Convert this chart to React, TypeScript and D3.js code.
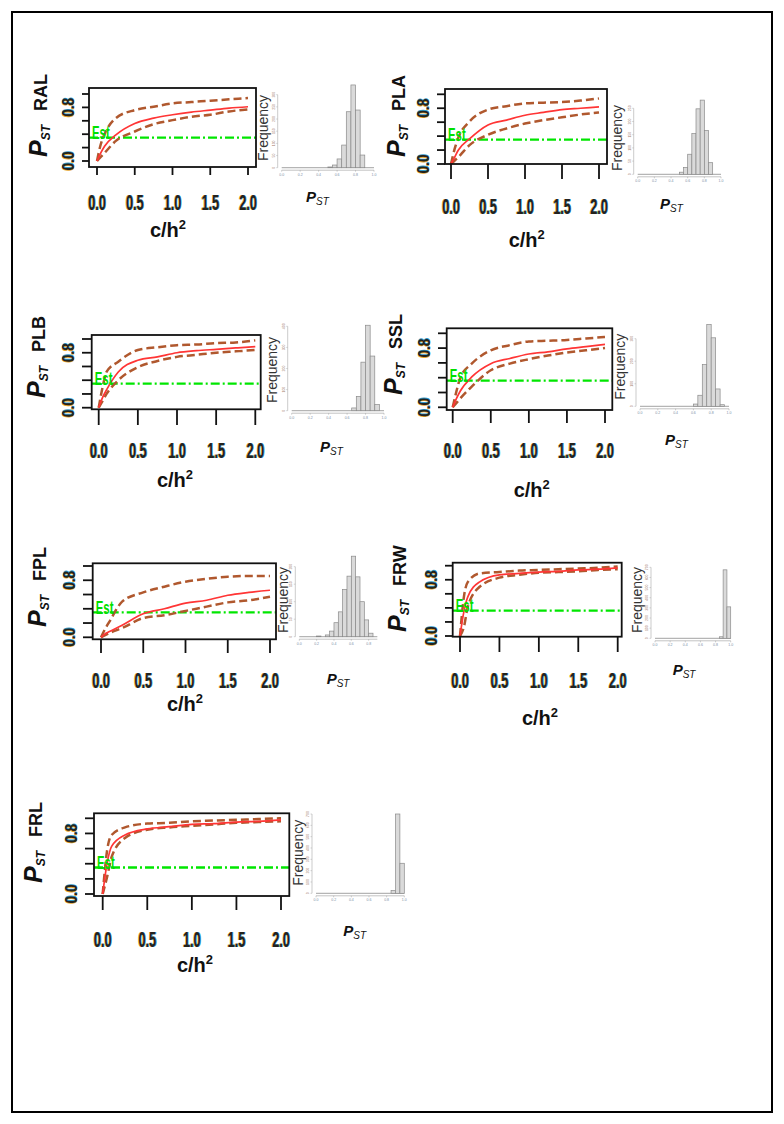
import React from 'react';
import * as d3 from 'd3';

// c/h2 grid at which the PST curves were read
const cGrid = [0, 0.05, 0.1, 0.25, 0.5, 0.75, 1, 1.25, 1.5, 1.75, 2];
const xTicks = [0, 0.5, 1, 1.5, 2];
const yTicks = [0, 0.2, 0.4, 0.6, 0.8, 1];
const yTickLabels = [0, 0.8];
const histXTicks = [0, 0.2, 0.4, 0.6, 0.8, 1];
const histBin = 0.05;

// RAL
const ralMid = [0, 0.12, 0.22, 0.39, 0.56, 0.64, 0.69, 0.73, 0.76, 0.79, 0.81];
const ralUp = [0, 0.25, 0.4, 0.64, 0.76, 0.81, 0.86, 0.88, 0.9, 0.92, 0.94];
const ralLo = [0, 0.06, 0.12, 0.3, 0.44, 0.55, 0.61, 0.66, 0.69, 0.74, 0.77];
const ralFst = 0.35;
const ralHistStart = 0.5;
const ralHist = [3, 11, 36, 93, 230, 340, 237, 52];

// PLA
const plaMid = [0, 0.1, 0.2, 0.36, 0.56, 0.63, 0.7, 0.74, 0.78, 0.8, 0.82];
const plaUp = [0, 0.22, 0.38, 0.61, 0.78, 0.83, 0.87, 0.88, 0.89, 0.91, 0.94];
const plaLo = [0, 0.05, 0.1, 0.27, 0.42, 0.51, 0.58, 0.63, 0.67, 0.71, 0.74];
const plaFst = 0.35;
const plaHistStart = 0.5;
const plaHist = [8, 26, 76, 154, 248, 281, 166, 44];

// PLB
const plbMid = [0, 0.15, 0.26, 0.52, 0.69, 0.74, 0.8, 0.83, 0.85, 0.87, 0.89];
const plbUp = [0, 0.3, 0.52, 0.67, 0.84, 0.88, 0.91, 0.92, 0.94, 0.95, 0.98];
const plbLo = [0, 0.1, 0.2, 0.4, 0.59, 0.68, 0.74, 0.77, 0.8, 0.82, 0.84];
const plbFst = 0.35;
const plbHistStart = 0.65;
const plbHist = [13, 68, 230, 405, 259, 29];

// SSL
const sslMid = [0, 0.12, 0.22, 0.41, 0.59, 0.66, 0.72, 0.75, 0.79, 0.82, 0.85];
const sslUp = [0, 0.22, 0.4, 0.59, 0.77, 0.84, 0.89, 0.9, 0.91, 0.93, 0.95];
const sslLo = [0, 0.06, 0.12, 0.28, 0.5, 0.59, 0.65, 0.7, 0.74, 0.77, 0.8];
const sslFst = 0.36;
const sslHistStart = 0.6;
const sslHist = [10, 49, 185, 363, 304, 77, 7];

// FPL
const fplMid = [0, 0.05, 0.08, 0.17, 0.33, 0.4, 0.48, 0.52, 0.59, 0.63, 0.66];
const fplUp = [0, 0.12, 0.22, 0.5, 0.63, 0.71, 0.78, 0.82, 0.85, 0.86, 0.86];
const fplLo = [0, 0.03, 0.06, 0.13, 0.27, 0.31, 0.37, 0.43, 0.49, 0.52, 0.57];
const fplFst = 0.35;
const fplHistStart = 0.2;
const fplHist = [2, 0, 5, 16, 40, 71, 135, 173, 230, 171, 100, 48, 10];

// FRW
const frwMid = [0, 0.35, 0.56, 0.77, 0.87, 0.89, 0.91, 0.92, 0.94, 0.95, 0.97];
const frwUp = [0, 0.56, 0.77, 0.89, 0.91, 0.93, 0.94, 0.95, 0.96, 0.97, 0.99];
const frwLo = [0, 0.13, 0.42, 0.7, 0.83, 0.87, 0.9, 0.91, 0.92, 0.94, 0.95];
const frwFst = 0.36;
const frwHistStart = 0.85;
const frwHist = [15, 675, 310];

// FRL
const frlMid = [0, 0.41, 0.63, 0.78, 0.86, 0.89, 0.92, 0.93, 0.95, 0.96, 0.98];
const frlUp = [0, 0.58, 0.78, 0.88, 0.93, 0.94, 0.96, 0.97, 0.98, 0.99, 1.0];
const frlLo = [0, 0.23, 0.49, 0.74, 0.85, 0.88, 0.9, 0.92, 0.94, 0.95, 0.96];
const frlFst = 0.35;
const frlHistStart = 0.85;
const frlHist = [25, 700, 265];

// where each panel sits on the page
const layouts = [
  { box: [89, 88, 256, 167], x0: 97, x2: 248, y0: 161, y1: 94, yTickX: 82, xTickY: 175, xLabY: 202, cLab: [168, 236.7], yLab: [47, 157],
    hx0: 281.7, hx1: 374, hBase: 167.7, hTopVal: 300, hTopPx: 94.7, hStep: 50, hEnd: 1, freq: [262.7, 128], pst: [306, 201.7] },
  { box: [445, 89, 607, 164], x0: 451, x2: 599, y0: 164, y1: 94.3, yTickX: 437, xTickY: 179, xLabY: 206.7, cLab: [526.7, 246.7], yLab: [405, 157],
    hx0: 637.7, hx1: 721, hBase: 174.3, hTopVal: 250, hTopPx: 108.3, hStep: 50, hEnd: 1, freq: [616.7, 138], pst: [660, 209.3] },
  { box: [91.7, 335, 260.7, 409.3], x0: 98.7, x2: 255.3, y0: 407.7, y1: 339, yTickX: 82, xTickY: 425, xLabY: 450, cLab: [175, 486.7], yLab: [45, 398],
    hx0: 291.7, hx1: 384, hBase: 410.7, hTopVal: 400, hTopPx: 326.3, hStep: 100, hEnd: 1, freq: [271.7, 370], pst: [320, 451.7] },
  { box: [446.7, 328.3, 612.3, 410], x0: 452.7, x2: 605, y0: 407.3, y1: 333.3, yTickX: 438, xTickY: 423, xLabY: 450, cLab: [531.7, 496.7], yLab: [402, 395],
    hx0: 640, hx1: 729, hBase: 406.3, hTopVal: 300, hTopPx: 338.7, hStep: 100, hEnd: 1, freq: [620, 366.7], pst: [665, 445] },
  { box: [92.7, 563.3, 276, 639.3], x0: 101, x2: 270, y0: 637.3, y1: 566, yTickX: 83, xTickY: 653, xLabY: 680, cLab: [185, 711], yLab: [46, 627],
    hx0: 299.3, hx1: 386, hBase: 636.7, hTopVal: 200, hTopPx: 566.7, hStep: 50, hEnd: 0.9, freq: [283.3, 600], pst: [326.7, 684] },
  { box: [452.7, 562.7, 621.7, 636.7], x0: 460, x2: 617.7, y0: 636, y1: 565.7, yTickX: 445, xTickY: 652, xLabY: 680, cLab: [540, 725], yLab: [406, 632],
    hx0: 655, hx1: 730.7, hBase: 638.3, hTopVal: 700, hTopPx: 567.3, hStep: 100, hEnd: 1, freq: [636.7, 600], pst: [672.7, 675] },
  { box: [94, 813.3, 289.3, 896], x0: 102.7, x2: 281, y0: 894, y1: 818.3, yTickX: 85, xTickY: 910, xLabY: 939, cLab: [195, 971.7], yLab: [42, 883],
    hx0: 316, hx1: 404.3, hBase: 893.3, hTopVal: 700, hTopPx: 814, hStep: 100, hEnd: 1, freq: [298.3, 852.7], pst: [343.3, 935.7] },
];

const panels = [
  { name: 'RAL', mid: ralMid, up: ralUp, lo: ralLo, fst: ralFst, hStart: ralHistStart, hist: ralHist },
  { name: 'PLA', mid: plaMid, up: plaUp, lo: plaLo, fst: plaFst, hStart: plaHistStart, hist: plaHist },
  { name: 'PLB', mid: plbMid, up: plbUp, lo: plbLo, fst: plbFst, hStart: plbHistStart, hist: plbHist },
  { name: 'SSL', mid: sslMid, up: sslUp, lo: sslLo, fst: sslFst, hStart: sslHistStart, hist: sslHist },
  { name: 'FPL', mid: fplMid, up: fplUp, lo: fplLo, fst: fplFst, hStart: fplHistStart, hist: fplHist },
  { name: 'FRW', mid: frwMid, up: frwUp, lo: frwLo, fst: frwFst, hStart: frwHistStart, hist: frwHist },
  { name: 'FRL', mid: frlMid, up: frlUp, lo: frlLo, fst: frlFst, hStart: frlHistStart, hist: frlHist },
];

const SANS = '"Liberation Sans", Arial, sans-serif';

// blurry scanned look: orange / blue fringes around dark digits
function Fringe({ transform, text, size }: { transform: string; text: string; size: number }) {
  const common = { fontFamily: SANS, fontWeight: 700, fontSize: size, textAnchor: 'middle' as const };
  return (
    <g transform={transform}>
      <text x={-1} {...common} fill="#e39a12" opacity={0.9}>{text}</text>
      <text x={1} {...common} fill="#1b8fc4" opacity={0.9}>{text}</text>
      <text x={0} {...common} fill="#23231e">{text}</text>
    </g>
  );
}

function Panel({ p, L, idx }: { p: any; L: any; idx: number }) {
  const [bl, bt, br, bb] = L.box;
  const x = d3.scaleLinear().domain([0, 2]).range([L.x0, L.x2]);
  const y = d3.scaleLinear().domain([0, 1]).range([L.y0, L.y1]);
  const line = d3.line<number>().x((_, i) => x(cGrid[i])).y((d) => y(d)).curve(d3.curveMonotoneX);

  const hx = d3.scaleLinear().domain([0, 1]).range([L.hx0, L.hx1]);
  const hy = d3.scaleLinear().domain([0, L.hTopVal]).range([L.hBase, L.hTopPx]);
  const hyTicks = d3.range(0, L.hTopVal + 1, L.hStep);
  const hxTicks = histXTicks.filter((t) => t <= L.hEnd + 1e-9);
  const clipId = `clip${idx}`;

  return (
    <g>
      <defs>
        <clipPath id={clipId}>
          <rect x={bl} y={bt} width={br - bl} height={bb - bt} />
        </clipPath>
      </defs>

      {/* curves */}
      <g clipPath={`url(#${clipId})`}>
        <line x1={bl} x2={br} y1={y(p.fst)} y2={y(p.fst)} stroke="#00e600" strokeWidth={2.3} strokeDasharray="9,3,2,3" />
        <path d={line(p.up) || ''} fill="none" stroke="#b0582e" strokeWidth={2.5} strokeDasharray="8,4" />
        <path d={line(p.lo) || ''} fill="none" stroke="#b0582e" strokeWidth={2.5} strokeDasharray="8,4" />
        <path d={line(p.mid) || ''} fill="none" stroke="#ff3535" strokeWidth={1.7} />
      </g>
      <text transform={`translate(${bl + 3},${y(p.fst) + 1.5}) scale(0.6,1)`} fontFamily={SANS} fontWeight={700} fontSize={19} fill="#00e000">Est</text>

      <rect x={bl} y={bt} width={br - bl} height={bb - bt} fill="none" stroke="#111" strokeWidth={1.8} />

      {/* y axis */}
      {yTicks.map((t) => (
        <line key={'yt' + t} x1={L.yTickX} x2={bl} y1={y(t)} y2={y(t)} stroke="#111" strokeWidth={1.8} />
      ))}
      {yTickLabels.map((t) => (
        <Fringe key={'yl' + t} transform={`translate(${L.yTickX - 8},${y(t)}) rotate(-90) scale(0.85,1)`} text={d3.format('.1f')(t)} size={16} />
      ))}

      {/* x axis */}
      {xTicks.map((t) => (
        <line key={'xt' + t} x1={x(t)} x2={x(t)} y1={bb} y2={L.xTickY} stroke="#111" strokeWidth={1.8} />
      ))}
      {xTicks.map((t) => (
        <Fringe key={'xl' + t} transform={`translate(${x(t)},${L.xLabY + 7.5}) scale(0.58,1)`} text={d3.format('.1f')(t)} size={22} />
      ))}

      <text x={L.cLab[0]} y={L.cLab[1]} textAnchor="middle" fontFamily={SANS} fontWeight={700} fontSize={20} fill="#111">
        c/h<tspan fontSize={13} dy={-8}>2</tspan>
      </text>

      <text transform={`translate(${L.yLab[0]},${L.yLab[1]}) rotate(-90)`} fontFamily={SANS} fill="#111">
        <tspan fontSize={25} fontWeight={700} fontStyle="italic">P</tspan>
        <tspan fontSize={12} fontStyle="italic" fontWeight={700} dy={3}>ST</tspan>
        <tspan fontSize={18} fontWeight={700} dx={14} dy={-3}>{p.name}</tspan>
      </text>

      {/* histogram */}
      <line x1={hx(0)} x2={hx(L.hEnd)} y1={L.hBase} y2={L.hBase} stroke="#b5b5b5" strokeWidth={1.2} />
      {p.hist.map((c: number, i: number) => {
        const s = p.hStart + i * histBin;
        return (
          <rect key={'b' + i} x={hx(s)} y={hy(c)} width={hx(s + histBin) - hx(s)} height={L.hBase - hy(c)}
            fill="#dadada" stroke="#8a8a8a" strokeWidth={0.7} />
        );
      })}
      <line x1={hx(0)} x2={hx(L.hEnd)} y1={L.hBase + 2.5} y2={L.hBase + 2.5} stroke="#9a9a9a" strokeWidth={0.6} />
      {hxTicks.map((t) => (
        <g key={'hx' + t}>
          <line x1={hx(t)} x2={hx(t)} y1={L.hBase + 2.5} y2={L.hBase + 4} stroke="#9a9a9a" strokeWidth={0.5} />
          <text x={hx(t)} y={L.hBase + 8} textAnchor="middle" fontFamily={SANS} fontSize={3.5} fill="#7b8ea6">{d3.format('.1f')(t)}</text>
        </g>
      ))}
      <line x1={L.hx0 - 4} x2={L.hx0 - 4} y1={hy(0)} y2={hy(hyTicks[hyTicks.length - 1])} stroke="#a8a8a8" strokeWidth={0.6} />
      {hyTicks.map((t) => (
        <g key={'hy' + t}>
          <line x1={L.hx0 - 5.5} x2={L.hx0 - 4} y1={hy(t)} y2={hy(t)} stroke="#a8a8a8" strokeWidth={0.5} />
          <text transform={`translate(${L.hx0 - 7},${hy(t)}) rotate(-90)`} textAnchor="middle" fontFamily={SANS} fontSize={3.5} fill="#a07a6a">{t}</text>
        </g>
      ))}
      <text transform={`translate(${L.freq[0]},${L.freq[1]}) rotate(-90)`} textAnchor="middle" dy={5} fontFamily={SANS} fontSize={14} fill="#333">Frequency</text>
      <text x={L.pst[0]} y={L.pst[1]} fontFamily={SANS} fill="#111">
        <tspan fontSize={15} fontWeight={700} fontStyle="italic">P</tspan>
        <tspan fontSize={10} fontStyle="italic" dy={3}>ST</tspan>
      </text>
    </g>
  );
}

export default function App() {
  return (
    <svg width={784} height={1124} style={{ position: 'absolute', left: 0, top: 0, background: '#fff' }}>
      <rect x={0} y={0} width={784} height={1124} fill="#fff" />
      <rect x={12} y={12} width={760} height={1100} fill="none" stroke="#000" strokeWidth={2} />
      {panels.map((p, i) => (
        <Panel key={p.name} p={p} L={layouts[i]} idx={i} />
      ))}
    </svg>
  );
}
